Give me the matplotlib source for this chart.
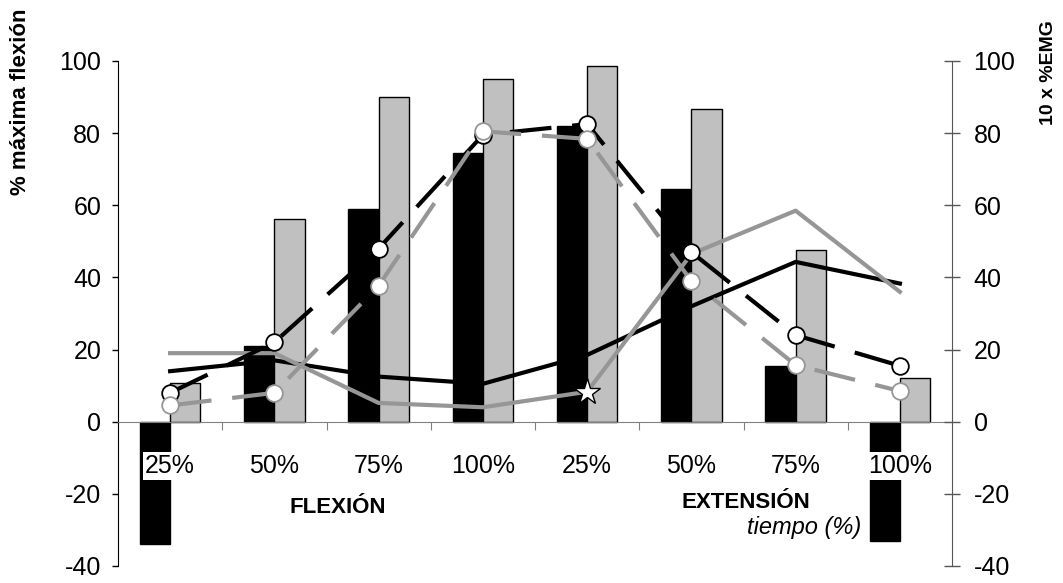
import numpy as np
import matplotlib.pyplot as plt

plt.rcParams['font.family'] = ['Liberation Sans', 'DejaVu Sans']
plt.rcParams['axes.unicode_minus'] = False

categories = ['25%', '50%', '75%', '100%', '25%', '50%', '75%', '100%']

# bars (left axis, % maxima flexion)
bar_black = [-34, 21, 59, 74.5, 82, 64.5, 15.5, -33]
bar_gray = [10.8, 56.2, 90, 95, 98.5, 86.7, 47.5, 12.2]

# solid lines (10 x %EMG)
emg_black = [14, 17, 12.5, 10.5, 18.5, 32, 44.3, 38.3]
emg_gray = [19, 19, 5.2, 4, 8.3, 46.5, 58.5, 36]

# dashed lines with circles
flex_black = [8, 22, 48, 79.5, 82.5, 47, 24, 15.5]
flex_gray = [4.5, 8, 37.7, 80.5, 78.4, 39, 15.7, 8.5]

yticks = [-40, -20, 0, 20, 40, 60, 80, 100]

LGRAY = '#C0C0C0'
MGRAY = '#969696'

x = np.arange(len(categories))
w = 0.29

fig = plt.figure(figsize=(10.63, 5.83), dpi=100)
ax = fig.add_axes([0.111, 0.0292, 0.7846, 0.8662])

ax.bar(x - w / 2, bar_black, w, color='black', edgecolor='black', lw=1, zorder=1)
ax.bar(x + w / 2, bar_gray, w, color=LGRAY, edgecolor='black', lw=1, zorder=1)

ax.plot(x, emg_black, color='black', lw=3, zorder=3)
ax.plot(x, emg_gray, color=MGRAY, lw=3, zorder=4)
ax.plot(x, flex_black, color='black', lw=3, ls=(0, (10, 5)),
        marker='o', ms=12, mfc='white', mec='black', mew=1.3, zorder=5)
ax.plot(x, flex_gray, color=MGRAY, lw=3, ls=(0, (10, 5)),
        marker='o', ms=12, mfc='white', mec=MGRAY, mew=1.3, zorder=6)
ax.plot(x[4], emg_gray[4], ls='none', marker='*', ms=20,
        mfc='white', mec='black', mew=1, zorder=7)

ax.set_xlim(-0.5, 7.5)
ax.set_ylim(-40, 100)
ax.set_yticks(yticks)
ax.tick_params(axis='y', direction='out', length=4, width=1, pad=8, labelsize=18)

# category axis sits on zero
ax.spines['bottom'].set_position(('data', 0))
ax.spines['bottom'].set_color('#808080')
ax.spines['top'].set_visible(False)
ax.spines['right'].set_visible(False)
ax.set_xticks(np.arange(0.5, 7, 1))
ax.set_xticklabels([])
ax.tick_params(axis='x', direction='out', length=6, color='#808080')

for i, lab in enumerate(categories):
    ax.text(i, -12.2, lab, ha='center', va='center', fontsize=18, zorder=8,
            bbox=dict(facecolor='white', edgecolor='none', pad=1.5))

ax.text(1.61, -23.8, 'FLEXIÓN', ha='center', va='center', fontsize=16,
        fontweight='bold', zorder=8)
ax.text(6.14, -22.4, 'EXTENSIÓN', ha='right', va='center', fontsize=16,
        fontweight='bold', zorder=8)
ax.text(6.63, -29.4, 'tiempo (%)', ha='right', va='center', fontsize=17,
        style='italic', zorder=8)

ax2 = ax.twinx()
ax2.set_ylim(-40, 100)
ax2.set_yticks(yticks)
ax2.tick_params(axis='y', direction='inout', length=11, width=1, pad=10,
                labelsize=18, color='#555555')
for s in ['top', 'left', 'bottom']:
    ax2.spines[s].set_visible(False)
ax2.spines['right'].set_color('#555555')

fig.text(0.019, 0.985, '% máxima flexión', rotation=90, ha='center', va='top',
         fontsize=16, fontweight='bold')
fig.text(0.986, 0.965, '10 x %EMG', rotation=90, ha='center', va='top',
         fontsize=14, fontweight='bold')

fig.savefig('out.png', dpi=100)
